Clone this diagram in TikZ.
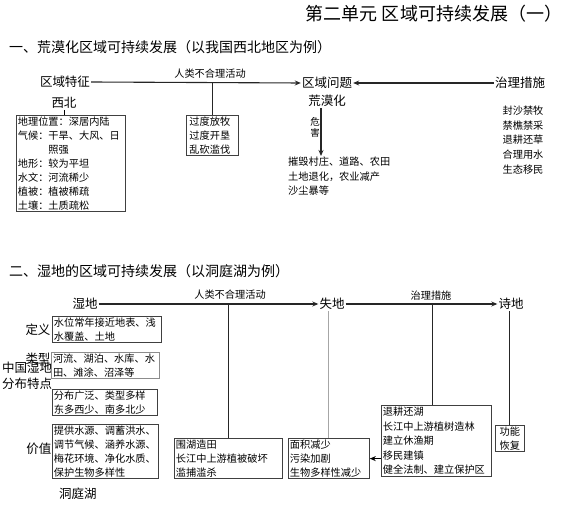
\documentclass[tikz,border=0pt]{standalone}
\usepackage{fontspec}
\setmainfont{Noto Sans CJK SC}
\usetikzlibrary{arrows.meta}

\tikzset{
    infobox/.style={draw=black!75, line width=0.8pt, anchor=north west, align=left,
        inner xsep=1.5pt, inner ysep=1.5pt, text width=#1,
        font=\fontsize{10.2}{14}\selectfont}
}

\begin{document}
\begin{tikzpicture}[
    x=1pt, y=-1pt,
    >={Stealth[length=6pt, width=5pt]},
    every node/.style={inner sep=1pt},
    lbl/.style={font=\fontsize{12.5}{14}\selectfont},
    note/.style={font=\fontsize{10.2}{12}\selectfont},
    flow/.style={->, line width=1.1pt, black!85},
    link/.style={line width=1.1pt, black!85}
]
\useasboundingbox (0,0) rectangle (574,505);

% Headings
\node[font=\fontsize{18}{20}\selectfont] (title) at (434,14) {第二单元\ 区域可持续发展（一）};
\node[anchor=west, font=\fontsize{14}{16}\selectfont] (h1) at (8,47) {一、荒漠化区域可持续发展（以我国西北地区为例）};
\node[anchor=west, font=\fontsize{14}{16}\selectfont] (h2) at (8,271) {二、湿地的区域可持续发展（以洞庭湖为例）};

%%% Part 1: desertification
\node[lbl] (feat) at (65,82) {区域特征};
\node[lbl] (nw) at (64,103) {西北};
\node[lbl] (prob) at (327,83) {区域问题};
\node[lbl] (desert) at (327,101) {荒漠化};
\node[lbl] (cure) at (520,83) {治理措施};

\node[infobox=106pt] (featbox) at (16,115) {地理位置：深居内陆\\
    气候：干旱、大风、日\\\hspace*{3em}照强\\
    地形：较为平坦\\水文：河流稀少\\植被：植被稀疏\\土壤：土质疏松};
\node[infobox=46pt, inner xsep=3pt] (actbox) at (186,115) {过度放牧\\过度开垦\\乱砍滥伐};
\node[note, anchor=south] (act1) at (210,80) {人类不合理活动};

\node[note, anchor=north west, align=left, font=\fontsize{10.2}{14.5}\selectfont] (harm) at (287,156)
    {摧毁村庄、道路、农田\\土地退化，农业减产\\沙尘暴等};
\node[note, align=center, font=\fontsize{9.5}{11}\selectfont] (harmlbl) at (315,127) {危\\害};
\node[note, anchor=north, align=center, font=\fontsize{10.2}{14.6}\selectfont] (curelist) at (523,105)
    {封沙禁牧\\禁樵禁采\\退耕还草\\合理用水\\生态移民};

\draw[flow] (feat.east) -- (prob.west);
\draw[flow] (cure.west) -- (prob.east);
\draw[link] (actbox.north) -- (actbox.north |- feat.east);
\draw[line width=0.8pt] (nw.south) -- (nw.south |- featbox.north);
\draw[flow] ([xshift=-6pt]desert.south) -- ([xshift=-6pt]desert.south |- harm.north);

%%% Part 2: wetland
\node[lbl] (wet) at (85,304) {湿地};
\node[lbl] (lost) at (332,304) {失地};
\node[lbl] (poem) at (511,304) {诗地};
\node[note, anchor=south] (act2) at (230,301) {人类不合理活动};
\node[note, anchor=south] (ctrl) at (431,302) {治理措施};

% left column
\node[lbl] (defl) at (38,330) {定义};
\node[lbl] (typl) at (38,359) {类型};
\node[lbl] (cnl) at (27,368) {中国湿地};
\node[lbl] (distl) at (27,384) {分布特点};
\node[lbl] (vall) at (39,449) {价值};
\node[lbl] (lake) at (78,494) {洞庭湖};

\node[infobox=106pt] (defbox) at (52,316) {水位常年接近地表、浅\\水覆盖、土地};
\node[infobox=105pt, draw=black!45, line width=1pt] (typbox) at (51,352) {河流、湖泊、水库、水\\田、滩涂、沼泽等};
\node[infobox=102pt] (distbox) at (52,389) {分布广泛、类型多样\\东多西少、南多北少};
\node[infobox=103pt] (valbox) at (52,424) {提供水源、调蓄洪水、\\调节气候、涵养水源、\\梅花环境、净化水质、\\保护生物多样性};

% cause and effect boxes
\node[infobox=105pt] (causebox) at (174,438) {围湖造田\\长江中上游植被破坏\\滥捕滥杀};
\node[infobox=78pt] (lossbox) at (288,438) {面积减少\\污染加剧\\生物多样性减少};
\node[infobox=107pt, font=\fontsize{10.2}{14.6}\selectfont] (fixbox) at (381,405)
    {退耕还湖\\长江中上游植树造林\\建立休渔期\\移民建镇\\健全法制、建立保护区};
\node[infobox=26pt, align=center] (funbox) at (495,425) {功能\\恢复};

\draw[flow] (wet.east) -- (lost.west);
\draw[flow] (lost.east) -- (poem.west);
\draw[link] (causebox.north) -- (causebox.north |- wet.east);
\draw[line width=1.1pt, black!35] (lossbox.north) -- (lossbox.north |- lost.south);
\draw[link] ([xshift=-4pt]fixbox.north) -- ([xshift=-4pt]fixbox.north |- lost.east);
\draw[link] (funbox.north) -- (funbox.north |- poem.south);
\draw[->, line width=0.8pt] (lossbox.east -| fixbox.west) -- (lossbox.east);

\end{tikzpicture}
\end{document}
